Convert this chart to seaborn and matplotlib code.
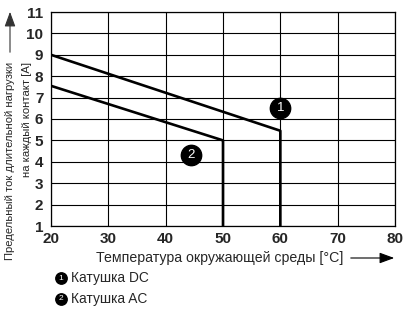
import matplotlib
matplotlib.use("Agg")
import matplotlib.pyplot as plt
import seaborn as sns
import pandas as pd

temp_dc = [20, 60, 60]
curr_dc = [9.0, 5.45, 1.0]
temp_ac = [20, 50, 50]
curr_ac = [7.55, 5.0, 1.0]
x_ticks = [20, 30, 40, 50, 60, 70, 80]
y_ticks = [1, 2, 3, 4, 5, 6, 7, 8, 9, 10, 11]
series_names = ["Катушка DC", "Катушка AC"]
marker_labels = ["1", "2"]
marker_pos_x = [60, 44.5]
marker_pos_y = [6.5, 4.3]

sns.set_theme(style="white")
plt.rcParams['font.family'] = ['Liberation Sans', 'DejaVu Sans']

fig = plt.figure(figsize=(4.08, 3.13), dpi=100)
ax = fig.add_axes([51/408, 1 - 226/313, (395-51)/408, (226-12)/313])

df_dc = pd.DataFrame({"t": temp_dc, "i": curr_dc})
df_ac = pd.DataFrame({"t": temp_ac, "i": curr_ac})
sns.lineplot(data=df_dc, x="t", y="i", sort=False, estimator=None, color="black", lw=1.9, ax=ax)
sns.lineplot(data=df_ac, x="t", y="i", sort=False, estimator=None, color="black", lw=1.9, ax=ax)

ax.set_xlim(20, 80)
ax.set_ylim(1, 11)
ax.set_xticks(x_ticks)
ax.set_yticks(y_ticks)
ax.set_xticklabels([str(v) for v in x_ticks], fontsize=11, fontweight="bold")
ax.set_yticklabels([str(v) for v in y_ticks], fontsize=11, fontweight="bold")
ax.tick_params(axis="y", length=0, pad=5.5)
ax.tick_params(axis="x", length=0, pad=4.5)
ax.grid(True, color="black", lw=0.8)
for s in ax.spines.values():
    s.set_color("black")
    s.set_linewidth(0.9)
ax.set_xlabel("")
ax.set_ylabel("")

for lx, ly, lab in zip(marker_pos_x, marker_pos_y, marker_labels):
    ax.scatter([lx], [ly], s=215, color="black", zorder=5, clip_on=False)
    ax.text(lx, ly, lab, color="white", ha="center", va="center", fontsize=9.5, zorder=6)

# x label with arrow
fig.text(343/408, 1 - 258/313, "Температура окружающей среды [°C]", ha="right", va="center", fontsize=10.2)
fig.add_artist(matplotlib.patches.FancyArrowPatch((348/408, 1 - 258/313), (397/408, 1 - 258/313),
               transform=fig.transFigure, arrowstyle="-|>,head_length=6,head_width=2.2", color="black", lw=0.8,
               mutation_scale=1.5))

# y label two lines with arrow
fig.text(10/408, 1 - 62/313, "Предельный ток длительной нагрузки", rotation=90, ha="center", va="top", fontsize=8.1)
fig.text(27/408, 1 - 62/313, "на каждый контакт [A]", rotation=90, ha="center", va="top", fontsize=8.1)
fig.add_artist(matplotlib.patches.FancyArrowPatch((10/408, 1 - 55/313), (10/408, 1 - 9/313),
               transform=fig.transFigure, arrowstyle="-|>,head_length=6,head_width=2.2", color="#333333", lw=0.8,
               mutation_scale=1.5))

# legend
for i, (lab, name) in enumerate(zip(marker_labels, series_names)):
    yy = 1 - (278 + 20.5*i)/313
    fig.add_artist(plt.Line2D([61/408], [yy], marker="o", markersize=8.2, color="black", transform=fig.transFigure))
    fig.text(61/408, yy, lab, color="white", ha="center", va="center", fontsize=6)
    fig.text(71/408, yy, name, ha="left", va="center", fontsize=9.9)

fig.savefig("out.png", dpi=100)
